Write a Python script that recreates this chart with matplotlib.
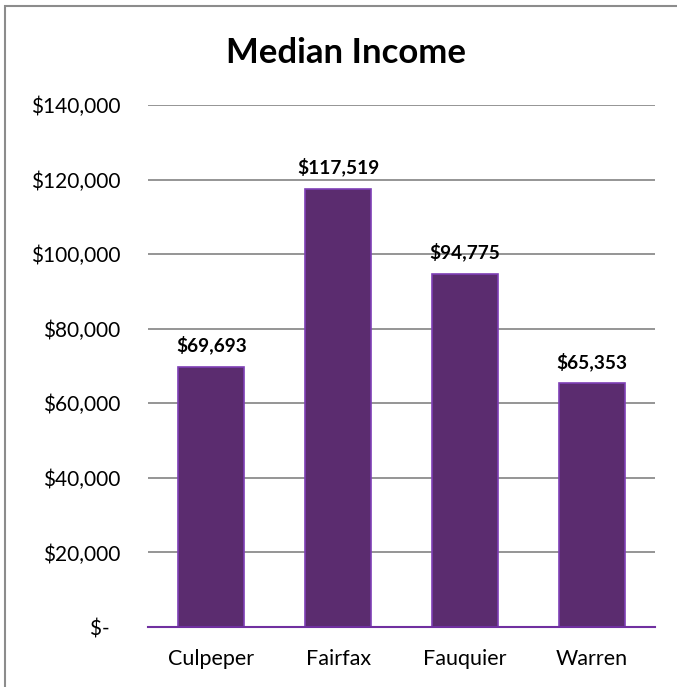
import matplotlib
matplotlib.use("Agg")
import matplotlib.pyplot as plt
from matplotlib.patches import Rectangle

categories = ["Culpeper", "Fairfax", "Fauquier", "Warren"]
values = [69693, 117519, 94775, 65353]
yticks = [0, 20000, 40000, 60000, 80000, 100000, 120000, 140000]
ytick_labels = ["$-  ", "$20,000", "$40,000", "$60,000", "$80,000", "$100,000", "$120,000", "$140,000"]
title = "Median Income"

plt.rcParams['font.family'] = ['Lato', 'DejaVu Sans']

fig = plt.figure(figsize=(6.77, 6.87), dpi=100)
ax = fig.add_axes([148/677, 1-627/687, (655-148)/677, (627-105)/687])

x = list(range(len(categories)))
bars = ax.bar(x, values, width=0.52, color="#5B2C6F", edgecolor="#7E3FB5", linewidth=1.2, zorder=3)

ax.set_xlim(-0.5, len(categories)-0.5)
ax.set_ylim(0, 140000)
ax.set_yticks(yticks)
ax.set_yticklabels(ytick_labels, fontsize=15)
ax.set_xticks(x)
ax.set_xticklabels(categories, fontsize=15.5)
ax.tick_params(axis='both', length=0)
ax.tick_params(axis='x', pad=15.5)
ax.tick_params(axis='y', pad=20)
ax.yaxis.grid(True, color="#8C8C8C", linewidth=1.3, zorder=0)
ax.set_axisbelow(True)
for s in ["top", "right", "left"]:
    ax.spines[s].set_visible(False)
ax.spines["bottom"].set_color("#7030A0")
ax.spines["bottom"].set_linewidth(1.5)
ax.spines["bottom"].set_zorder(4)

for xi, v in zip(x, values):
    ax.annotate(f"${v:,}", (xi, v), xytext=(0, 9), textcoords="offset points",
                ha="center", va="bottom", fontsize=13.7, fontweight="bold")

fig.text(346/677, 1-63/687, title, ha="center", va="baseline", fontsize=25, fontweight="bold")

fig.patches.append(Rectangle((5/677, -0.1), 1.2, 1.1 - 6/687, transform=fig.transFigure,
                             fill=False, edgecolor="#8C8C8C", linewidth=1.5))

fig.savefig("out.png", dpi=100)
